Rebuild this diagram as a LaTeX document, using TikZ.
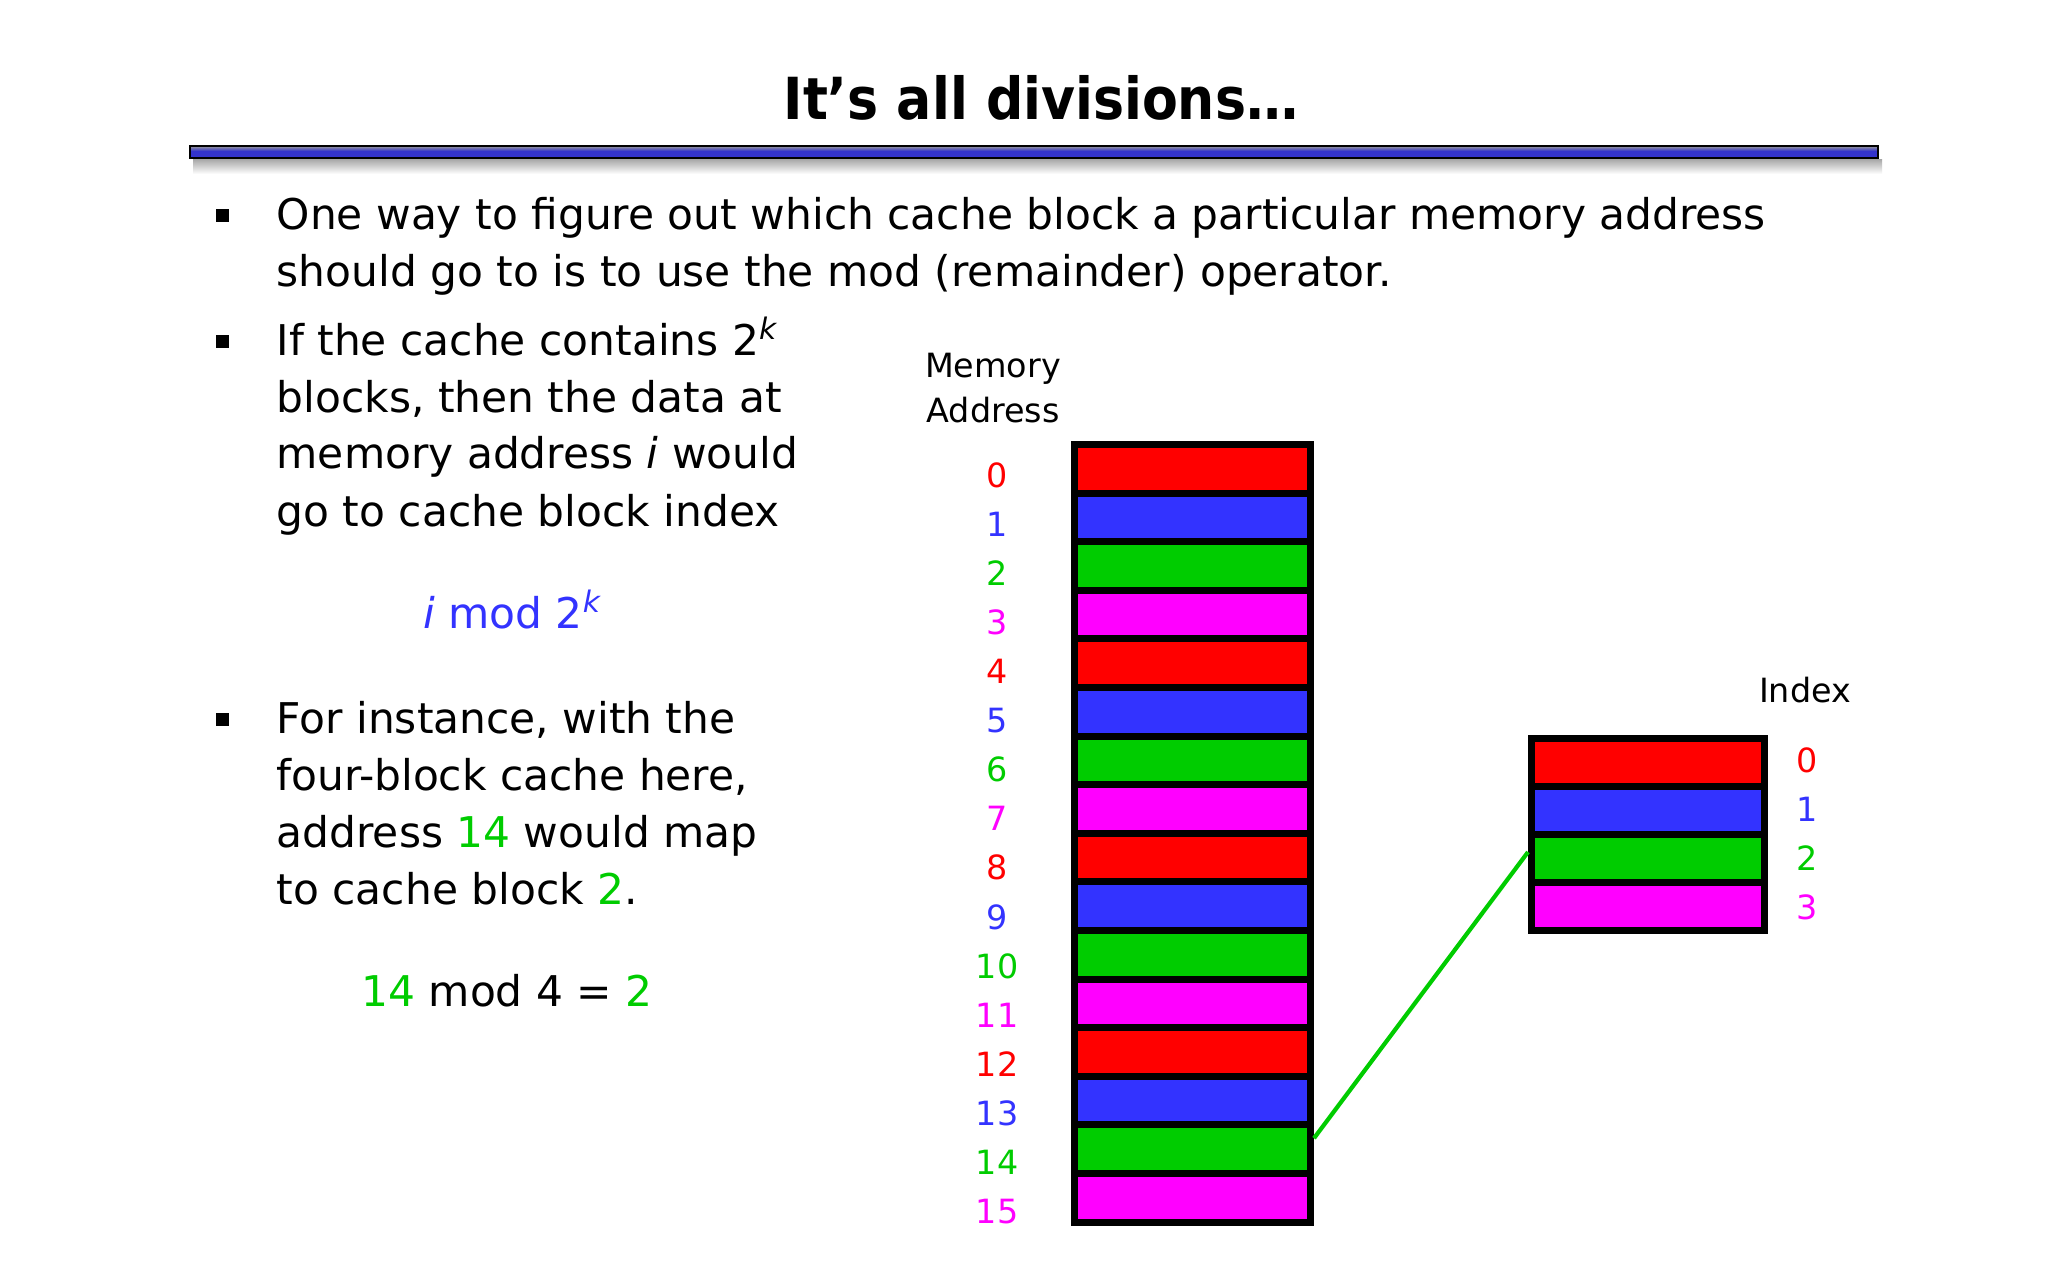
\documentclass[tikz,border=0pt]{standalone}
\usepackage{fontspec}
\setmainfont{DejaVu Sans}
\newfontfamily\titlefont{DejaVu Sans Condensed}
\usetikzlibrary{positioning}
\definecolor{col0}{RGB}{255,0,0}
\definecolor{col1}{RGB}{51,51,255}
\definecolor{col2}{RGB}{0,204,0}
\definecolor{col3}{RGB}{255,0,255}
\definecolor{barblue}{RGB}{51,51,204}
\tikzset{
  txt/.style={anchor=base west, inner sep=0pt, font=\fontsize{12.05}{14}\selectfont},
  bull/.style={fill=black, inner sep=0pt, minimum size=1.3mm},
  lbl/.style={inner sep=0pt, font=\fontsize{9.5}{12.8}\selectfont},
  cell/.style={draw=black, line width=0.7mm, minimum width=23.6mm, minimum height=4.86mm, inner sep=0pt},
}

\begin{document}
\begin{tikzpicture}[x=0.1mm, y=-0.1mm]
  \path[fill=white, use as bounding box] (0,0) rectangle (2048,1280);
  % title and rule
  \node[anchor=base, inner sep=0pt, font=\titlefont\bfseries\fontsize{16.5}{20}\selectfont] (title) at (1041,119) {It’s all divisions…};
  \fill[top color=black!35, bottom color=white] (193,159) rectangle (1882,174);
  \fill[barblue] (190,146) rectangle (1878,158);
  \fill[top color=black!40, bottom color=barblue] (190,146) rectangle (1878,151);
  \draw[line width=0.25mm] (190,146) rectangle (1878,158);

  % bullets
  \node[bull] (d1) at (222,215) {};
  \node[bull] (d2) at (222,341) {};
  \node[bull] (d3) at (222,719) {};
  \node[txt] (l1) at (276,229) {One way to figure out which cache block a particular memory address};
  \node[txt] (l2) at (276,286) {should go to is to use the mod (remainder) operator.};
  \node[txt] (l3) at (276,355) {If the cache contains 2\textsuperscript{\textit{k}}};
  \node[txt] (l4) at (276,412) {blocks, then the data at};
  \node[txt] (l5) at (276,468) {memory address \textit{i} would};
  \node[txt] (l6) at (276,526) {go to cache block index};
  \node[txt, anchor=base, text=col1] (f1) at (513,628) {\textit{i} mod 2\textsuperscript{\textit{k}}};
  \node[txt] (l7) at (276,733) {For instance, with the};
  \node[txt] (l8) at (276,790) {four-block cache here,};
  \node[txt] (l9) at (276,847) {address \textcolor{col2}{14} would map};
  \node[txt] (l10) at (276,904) {to cache block \textcolor{col2}{2}.};
  \node[txt, anchor=base] (f2) at (507,1006) {\textcolor{col2}{14} mod 4 = \textcolor{col2}{2}};

  % memory blocks
  \node[lbl, align=center] (memlbl) at (993,388) {Memory\\Address};
  \foreach \i in {0,...,15}{
    \pgfmathtruncatemacro{\k}{mod(\i,4)}
    \node[cell, fill=col\k] (m\i) at (1192.5, 468.8+48.6*\i) {};
    \node[lbl, text=col\k] (a\i) at (997, 475+49.1*\i) {\i};
  }

  % cache blocks
  \node[lbl] (idxlbl) at (1805,690) {Index};
  \foreach \i in {0,...,3}{
    \node[cell, minimum width=23.3mm, minimum height=4.8mm, fill=col\i] (c\i) at (1648, 762.5+48*\i) {};
    \node[lbl, text=col\i] (x\i) at (1807, 760+49*\i) {\i};
  }

  \draw[col2, line width=1.2pt] ([yshift=1.1mm]m14.east) -- ([yshift=0.65mm]c2.west);
\end{tikzpicture}
\end{document}
